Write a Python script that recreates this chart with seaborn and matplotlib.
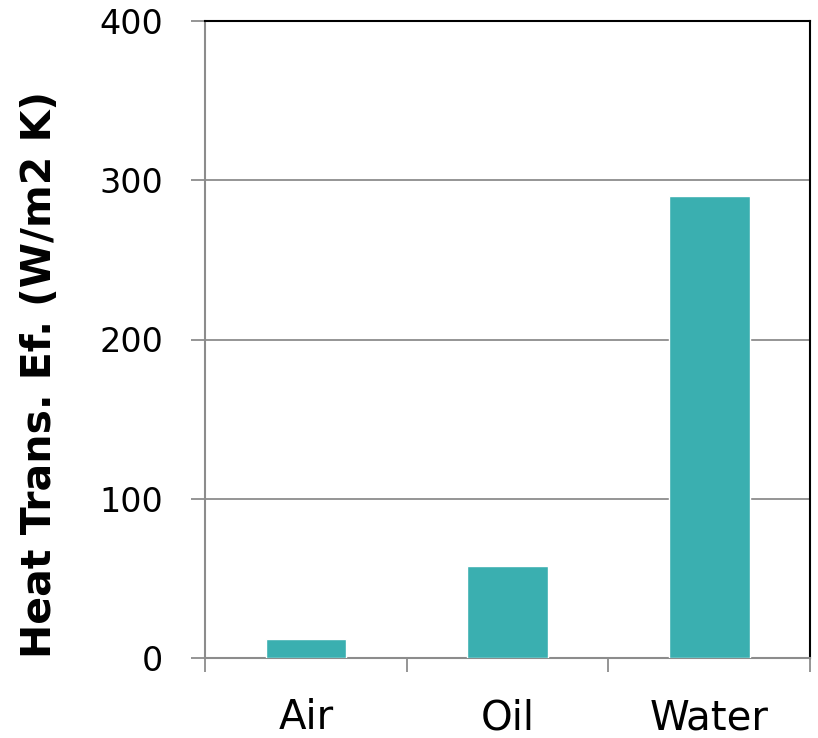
import matplotlib
matplotlib.use("Agg")
import matplotlib.pyplot as plt
import seaborn as sns
import pandas as pd

fluids = ["Air", "Oil", "Water"]
coefficients = [12, 58, 290]
y_ticks = [0, 100, 200, 300, 400]

sns.set_theme(style="white")
plt.rcParams["font.family"] = ["DejaVu Sans"]
plt.rcParams["text.color"] = "black"
plt.rcParams["axes.labelcolor"] = "black"
plt.rcParams["xtick.color"] = "black"
plt.rcParams["ytick.color"] = "black"

df = pd.DataFrame({"fluid": fluids, "h": coefficients})

fig = plt.figure(figsize=(8.18, 7.38), dpi=100)
ax = fig.add_axes([205 / 818, 80 / 738, 605 / 818, 637 / 738])

sns.barplot(data=df, x="fluid", y="h", color="#3AAFB0", saturation=1,
            width=0.4, ax=ax, zorder=3)

ax.set_ylim(0, 400)
ax.set_xlim(-0.5, 2.5)
ax.set_yticks(y_ticks)
ax.set_yticklabels([str(v) for v in y_ticks], fontsize=24)
ax.yaxis.grid(True, color="#8c8c8c", linewidth=1.3, zorder=0)
ax.set_axisbelow(True)

# category separators drawn as minor ticks below the axis
ax.set_xticks([-0.5, 0.5, 1.5, 2.5], minor=True)
ax.tick_params(axis="x", which="major", length=0, pad=29, labelsize=29,
               labelcolor="black")
ax.tick_params(axis="x", which="minor", direction="out", length=10,
               width=1.3, color="#8c8c8c", bottom=True)
ax.tick_params(axis="y", direction="out", length=10, width=1.3,
               color="#8c8c8c", left=True, pad=20, labelcolor="black")

for side in ("left", "bottom"):
    ax.spines[side].set_color("#8c8c8c")
    ax.spines[side].set_linewidth(1.5)
for side in ("top", "right"):
    ax.spines[side].set_color("black")
    ax.spines[side].set_linewidth(1.5)

ax.set_xlabel("")
ax.set_ylabel("Heat Trans. Ef. (W/m2 K)", fontsize=29.5, fontweight="bold",
              color="black")
ax.yaxis.set_label_coords(-0.24, 0.445)

fig.savefig("out.png", dpi=100)
